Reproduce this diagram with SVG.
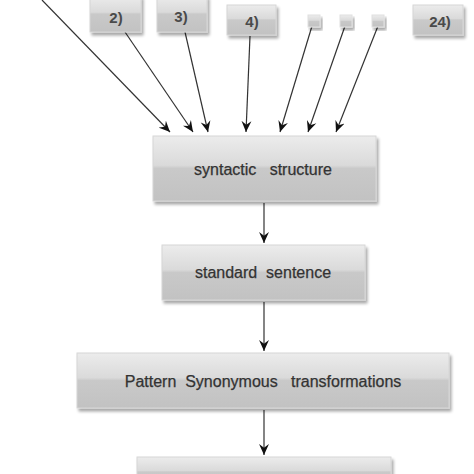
<svg xmlns="http://www.w3.org/2000/svg" width="474" height="474" viewBox="0 0 474 474">
<defs>
<linearGradient id="g" x1="0" y1="0" x2="0" y2="1">
<stop offset="0" stop-color="#ececec"/>
<stop offset="0.45" stop-color="#dadada"/>
<stop offset="0.5" stop-color="#c9c9c9"/>
<stop offset="1" stop-color="#c2c2c2"/>
</linearGradient>
<filter id="sh" x="-10%" y="-10%" width="130%" height="140%">
<feGaussianBlur in="SourceAlpha" stdDeviation="1.5"/>
<feOffset dx="2" dy="3"/>
<feComponentTransfer><feFuncA type="linear" slope="0.35"/></feComponentTransfer>
<feMerge><feMergeNode/><feMergeNode in="SourceGraphic"/></feMerge>
</filter>
<marker id="ah" viewBox="0 0 10 10" refX="10" refY="5" markerWidth="11" markerHeight="11" orient="auto" markerUnits="userSpaceOnUse">
<path d="M0,0.5 L10,5 L0,9.5 L3.5,5 Z" fill="#111"/>
</marker>
</defs>
<style>
.box{fill:url(#g);stroke:#d6d6d6;stroke-width:1;filter:url(#sh)}
.t{font-family:"Liberation Sans",Arial,sans-serif;fill:#333;text-anchor:middle;white-space:pre}
.s{font-size:15px;font-weight:bold;fill:#4a4a4a}
.m{font-size:16px;stroke:#333;stroke-width:0.25}
.c{stroke:#333;stroke-width:1.2;fill:none;marker-end:url(#ah)}
</style>
<rect width="474" height="474" fill="#fff"/>
<g id="connectors">
<line class="c" x1="42" y1="0" x2="170" y2="132"/>
<line class="c" x1="125" y1="32" x2="193" y2="132"/>
<line class="c" x1="185" y1="32" x2="208" y2="132"/>
<line class="c" x1="250" y1="36" x2="246" y2="132"/>
<line class="c" x1="312" y1="26" x2="280" y2="132"/>
<line class="c" x1="345" y1="26" x2="308" y2="132"/>
<line class="c" x1="378" y1="26" x2="336" y2="132"/>
<line class="c" x1="264" y1="203" x2="264" y2="243"/>
<line class="c" x1="264" y1="302" x2="264" y2="351"/>
<line class="c" x1="264" y1="410" x2="264" y2="455"/>
</g>
<g id="n2"><rect class="box" x="90" y="-4" width="51" height="36"/><text class="t s" x="116" y="23">2)</text></g>
<g id="n3"><rect class="box" x="157" y="-4" width="50" height="36"/><text class="t s" x="181" y="22">3)</text></g>
<g id="n4"><rect class="box" x="227" y="5" width="49" height="30"/><text class="t s" x="252" y="27">4)</text></g>
<g id="n5"><rect class="box" x="308" y="15" width="12" height="12" style="stroke:#e0e0e0"/></g>
<g id="n6"><rect class="box" x="340" y="15" width="12" height="12" style="stroke:#e0e0e0"/></g>
<g id="n7"><rect class="box" x="372" y="15" width="12" height="12" style="stroke:#e0e0e0"/></g>
<g id="n24"><rect class="box" x="413" y="5" width="50" height="30"/><text class="t s" x="440" y="27">24)</text></g>
<g id="syntactic"><rect class="box" x="153" y="136" width="223" height="65"/><text class="t m" x="263" y="175" xml:space="preserve">syntactic   structure</text></g>
<g id="standard"><rect class="box" x="162" y="245" width="203" height="55"/><text class="t m" x="263" y="278" xml:space="preserve">standard  sentence</text></g>
<g id="pattern"><rect class="box" x="77" y="353" width="372" height="55"/><text class="t m" x="263" y="387" xml:space="preserve">Pattern  Synonymous   transformations</text></g>
<g id="bottom"><rect class="box" x="137" y="457" width="254" height="30"/></g>
</svg>
